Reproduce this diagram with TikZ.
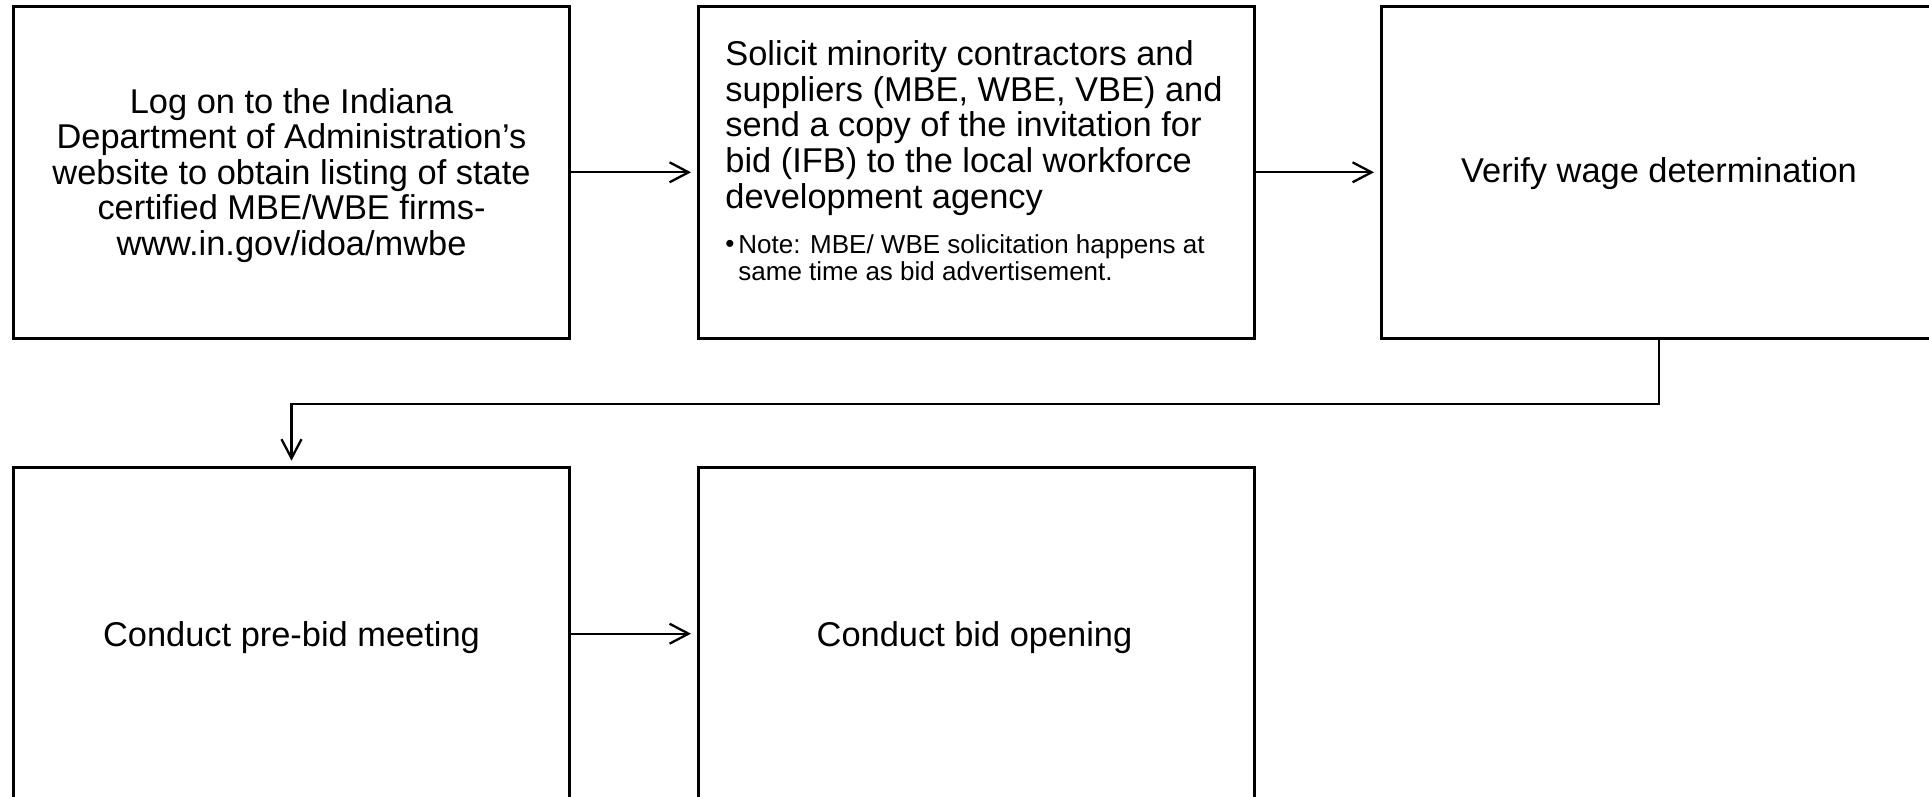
\documentclass[tikz,border=0pt]{standalone}
\usepackage{fontspec}
\setmainfont{Liberation Sans}
\usetikzlibrary{arrows.meta}
\begin{document}
\begin{tikzpicture}[x=0.5pt,y=-0.5pt,
  stepbox/.style={draw=black, line width=1.5pt, minimum width=278pt, minimum height=166pt, inner sep=0pt, outer sep=0pt},
  maintext/.style={font=\fontsize{17.2}{17.8}\selectfont, inner sep=0pt},
  notetext/.style={font=\fontsize{13}{13.5}\selectfont, inner sep=0pt, align=left},
  conn/.style={line width=1.15pt, -{Straight Barb[length=9.5pt,width=10pt]}, shorten >=3.5pt}]
\path[use as bounding box] (0,0) rectangle (1929,797);
\clip (0,0) rectangle (1929,797);
% boxes
\node[stepbox] (b1) at (291.5,172.3) {};
\node[stepbox] (b2) at (976,172.3) {};
\node[stepbox] (b3) at (1659,172.3) {};
\node[stepbox] (b4) at (291.5,633.7) {};
\node[stepbox] (b5) at (976,633.7) {};
% texts
\node[maintext, align=center] (t1) at (291.5,175.4) {Log on to the Indiana\\Department of Administration’s\\website to obtain listing of state\\certified MBE/WBE firms-\\www.in.gov/idoa/mwbe};
\node[maintext, align=left, anchor=north west] (t2) at (725,40.4) {Solicit minority contractors and\\suppliers (MBE, WBE, VBE) and\\send a copy of the invitation for\\bid (IFB) to the local workforce\\development agency};
\node[notetext, anchor=base west] (bul) at (725,252.5) {•};
\node[notetext, anchor=north west] (t2n) at (738,234.3) {Note: MBE/ WBE solicitation happens at\\same time as bid advertisement.};
\node[maintext, anchor=base] (t3) at (1659,183) {Verify wage determination};
\node[maintext, anchor=base] (t4) at (291.5,646) {Conduct pre-bid meeting};
\node[maintext, anchor=base] (t5) at (974.5,646) {Conduct bid opening};
% connectors
\coordinate (mid) at (975,404);
\draw[conn] (b1.east) -- (b2.west);
\draw[conn] (b2.east) -- (b3.west);
\draw[conn] (b3.south) |- (mid) -| (b4.north);
\draw[conn] (b4.east) -- (b5.west);
\end{tikzpicture}
\end{document}
